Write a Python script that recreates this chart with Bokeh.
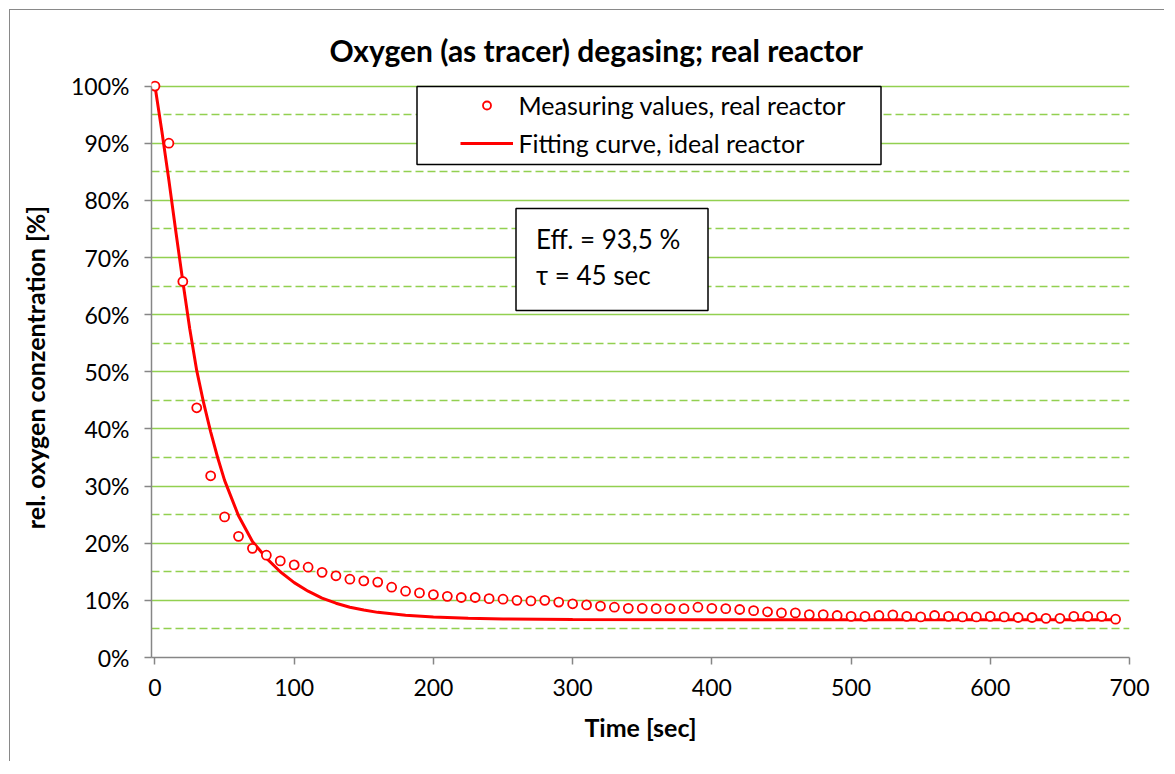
from bokeh.plotting import figure
from bokeh.models import (Range1d, FixedTicker, PrintfTickFormatter, Legend, LegendItem,
                          BoxAnnotation, Label)
from bokeh.embed import file_html
from bokeh.resources import INLINE

# ---------------- data ----------------
time_meas = [0, 10, 20, 30, 40, 50, 60, 70, 80, 90,
             100, 110, 120, 130, 140, 150, 160, 170, 180, 190,
             200, 210, 220, 230, 240, 250, 260, 270, 280, 290,
             300, 310, 320, 330, 340, 350, 360, 370, 380, 390,
             400, 410, 420, 430, 440, 450, 460, 470, 480, 490,
             500, 510, 520, 530, 540, 550, 560, 570, 580, 590,
             600, 610, 620, 630, 640, 650, 660, 670, 680, 690]
conc_meas = [100.0, 90.0, 65.8, 43.7, 31.8, 24.6, 21.2, 19.1, 17.9, 16.9,
             16.2, 15.8, 14.9, 14.3, 13.7, 13.4, 13.2, 12.3, 11.6, 11.3,
             11.0, 10.7, 10.5, 10.5, 10.3, 10.2, 10.0, 9.9, 10.0, 9.7,
             9.4, 9.2, 9.0, 8.8, 8.6, 8.6, 8.55, 8.55, 8.55, 8.8,
             8.6, 8.55, 8.4, 8.2, 8.0, 7.8, 7.8, 7.5, 7.5, 7.35,
             7.2, 7.2, 7.35, 7.45, 7.2, 7.1, 7.35, 7.2, 7.1, 7.1,
             7.2, 7.1, 7.0, 7.0, 6.85, 6.85, 7.2, 7.2, 7.2, 6.7]

time_fit = [0, 5, 10, 15, 20, 25, 30, 35, 40, 45, 50, 60, 70, 80, 90, 100,
            110, 120, 130, 140, 150, 160, 180, 200, 225, 250, 300, 400, 500, 600, 690]
conc_fit = [100.0, 92.0, 83.5, 74.5, 65.8, 57.5, 50.2, 44.5, 39.5, 35.0, 31.0, 24.8,
            20.3, 17.4, 15.0, 13.1, 11.6, 10.4, 9.5, 8.8, 8.3, 7.9, 7.4, 7.1, 6.85,
            6.75, 6.65, 6.6, 6.6, 6.6, 6.6]

y_ticks = [0, 10, 20, 30, 40, 50, 60, 70, 80, 90, 100]
y_minor = [5, 15, 25, 35, 45, 55, 65, 75, 85, 95]
x_ticks = [0, 100, 200, 300, 400, 500, 600, 700]

TITLE = "Oxygen (as tracer) degasing; real reactor"
X_LABEL = "Time [sec]"
Y_LABEL = "rel. oxygen conzentration [%]"
LEG_MEAS = "Measuring values, real reactor"
LEG_FIT = "Fitting curve, ideal reactor"
NOTE_1 = "Eff. = 93,5 %"
NOTE_2 = "\u03c4 = 45 sec"

# ---------------- style ----------------
FONT = "Lato"
GREEN = "#92D050"
AXIS = "#868686"
RED = "#FF0000"

p = figure(width=1155, height=752, output_backend="svg", toolbar_location=None,
           x_range=Range1d(-2.5, 700), y_range=Range1d(0, 101.5),
           min_border_left=141, min_border_right=36, min_border_top=67,
           min_border_bottom=105)
p.outline_line_color = None
p.background_fill_color = "white"
p.border_fill_color = "white"
p.styles = {"margin-left": "9px", "margin-top": "9px",
            "border-left": "1.5px solid #898989", "border-top": "1.5px solid #898989"}

# title
p.title.text = TITLE
p.title.align = "left"
p.title.offset = 178
p.title.standoff = 20
p.title.text_font = FONT
p.title.text_font_style = "bold"
p.title.text_font_size = "30px"
p.title.text_color = "black"

# grid
p.xgrid.visible = False
yg = p.ygrid[0]
yg.ticker = FixedTicker(ticks=y_ticks, minor_ticks=y_minor)
yg.grid_line_color = GREEN
yg.grid_line_width = 1.5
yg.minor_grid_line_color = GREEN
yg.minor_grid_line_width = 1.5
yg.minor_grid_line_dash = "8 4"

# y axis
ya = p.yaxis[0]
ya.ticker = FixedTicker(ticks=y_ticks)
ya.formatter = PrintfTickFormatter(format="%d%%")
ya.bounds = (0, 100)
ya.axis_line_color = AXIS
ya.axis_line_width = 1.5
ya.major_tick_line_color = AXIS
ya.major_tick_line_width = 1.5
ya.major_tick_out = 7
ya.major_tick_in = 0
ya.minor_tick_line_color = None
ya.major_label_text_font = FONT
ya.major_label_text_font_size = "23px"
ya.major_label_text_color = "black"
ya.major_label_standoff = 15
ya.axis_label = Y_LABEL
ya.axis_label_text_font = FONT
ya.axis_label_text_font_style = "bold"
ya.axis_label_text_font_size = "25px"
ya.axis_label_text_color = "black"
ya.axis_label_standoff = 18

# x axis
xa = p.xaxis[0]
xa.ticker = FixedTicker(ticks=x_ticks)
xa.axis_line_color = AXIS
xa.axis_line_width = 1.5
xa.major_tick_line_color = AXIS
xa.major_tick_line_width = 1.5
xa.major_tick_out = 7
xa.major_tick_in = 0
xa.minor_tick_line_color = None
xa.major_label_text_font = FONT
xa.major_label_text_font_size = "23px"
xa.major_label_text_color = "black"
xa.major_label_standoff = 14
xa.axis_label = X_LABEL
xa.axis_label_text_font = FONT
xa.axis_label_text_font_style = "bold"
xa.axis_label_text_font_size = "25px"
xa.axis_label_text_color = "black"
xa.axis_label_standoff = 13

# data
fit = p.line(time_fit, conc_fit, line_color=RED, line_width=3)
meas = p.scatter(time_meas, conc_meas, marker="circle", size=9, line_color=RED,
                 line_width=1.8, fill_color="white")

# legend box + legend
p.add_layout(BoxAnnotation(left=265.5, right=729.5, top=571, bottom=493,
                           left_units="screen", right_units="screen",
                           top_units="screen", bottom_units="screen",
                           fill_color="white", fill_alpha=1.0,
                           line_color="black", line_alpha=1.0, line_width=1.5))
legend = Legend(items=[LegendItem(label=LEG_MEAS, renderers=[meas]),
                       LegendItem(label=LEG_FIT, renderers=[fit])],
                location=(303.5, 494), padding=5, spacing=8, margin=0,
                glyph_width=53, glyph_height=20, label_standoff=6,
                label_text_font=FONT, label_text_font_size="25px",
                label_text_color="black",
                border_line_alpha=0, background_fill_alpha=0)
p.add_layout(legend)

# note box
p.add_layout(BoxAnnotation(left=364.5, right=556.5, top=449, bottom=347,
                           left_units="screen", right_units="screen",
                           top_units="screen", bottom_units="screen",
                           fill_color="white", fill_alpha=1.0,
                           line_color="black", line_alpha=1.0, line_width=1.5))
p.add_layout(Label(x=384.5, y=419, x_units="screen", y_units="screen", text=NOTE_1,
                   text_font=FONT, text_font_size="26px", text_color="black",
                   text_baseline="alphabetic"))
p.add_layout(Label(x=384.5, y=383, x_units="screen", y_units="screen", text=NOTE_2,
                   text_font=FONT, text_font_size="26px", text_color="black",
                   text_baseline="alphabetic"))

open("out.html", "w").write(file_html(p, INLINE))
